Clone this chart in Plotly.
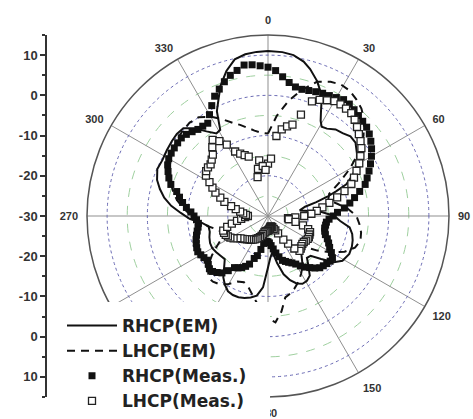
import plotly.graph_objects as go

# ---------------- data (angle in degrees, level in dB) ----------------
em_r_theta = [0, 5, 9, 13, 16, 20, 23, 25, 27, 29, 31, 34, 38, 42, 46, 50, 55, 60, 64, 68,
              70, 72, 74, 76, 80, 85, 90, 94, 98, 102, 106, 110, 115, 121, 125, 129, 133, 137,
              141, 145, 149, 153, 157, 161, 165, 169, 173, 177, 180, 184, 188, 192, 196, 200,
              204, 208, 212, 216, 220, 225, 230, 235, 240, 245, 250, 255, 260, 264, 268, 272,
              276, 280, 284, 288, 293, 298, 303, 308, 312, 316, 320, 324, 328, 331, 334, 337,
              340, 344, 348, 352, 356, 360]
em_r_db = [11.0, 10.9, 10.5, 9.4, 8.0, 5.7, 3.5, 1.5, -1.0, -3.0, -4.1, -3.8, -2.7, -2.3, -1.5,
           -1.6, -3.0, -4.5, -6.5, -9.0, -11.9, -14.5, -17.5, -20.5, -22.0, -17.0, -13.5, -12.0,
           -9.5, -8.6, -8.1, -7.8, -7.7, -8.4, -10.0, -13.0, -15.5, -15.8, -14.0, -11.9, -11.2,
           -11.1, -11.8, -13.1, -15.0, -18.0, -21.0, -19.5, -17.2, -12.2, -10.0, -9.3, -8.8,
           -8.5, -8.5, -8.8, -9.8, -11.1, -13.0, -14.8, -14.6, -14.3, -14.0, -14.1, -14.5,
           -15.0, -15.0, -13.5, -10.5, -8.3, -5.8, -3.8, -2.3, -1.0, -0.1, -0.3, 0.0, 0.3,
           0.5, 0.3, -1.5, -4.0, -5.8, -5.5, -1.0, 1.5, 4.5, 7.5, 9.8, 10.6, 10.9, 11.0]

em_l_theta = [0, 5, 10, 15, 20, 25, 29, 33, 37, 41, 45, 50, 55, 60, 65, 70, 75, 80, 85, 90,
              95, 100, 105, 110, 115, 120, 125, 130, 135, 140, 145, 150, 155, 160, 165, 168,
              172, 176, 180, 185, 190, 195, 200, 205, 210, 215, 220, 224, 230, 235, 240, 245,
              250, 255, 260, 265, 270, 275, 280, 285, 290, 295, 300, 305, 310, 315, 320, 325,
              330, 335, 340, 343, 347, 351, 355, 360]
em_l_db = [-9.5, -5.0, -1.0, 2.5, 5.5, 6.8, 7.4, 7.2, 6.4, 5.4, 3.8, 1.0, -2.5, -6.5, -10.5,
           -13.8, -14.5, -12.5, -10.0, -8.0, -7.2, -6.5, -6.2, -7.0, -9.0, -12.0, -15.0, -18.0,
           -19.0, -17.0, -15.0, -13.5, -12.0, -10.8, -9.8, -9.3, -6.0, -3.5, -4.5, -7.0, -9.5,
           -11.5, -12.5, -12.0, -10.5, -9.2, -8.7, -8.7, -10.5, -13.0, -15.5, -17.5, -18.0,
           -17.0, -15.0, -13.0, -11.0, -9.0, -7.0, -5.5, -4.0, -3.0, -2.0, -1.2, -0.5, 0.0,
           0.3, 0.0, -1.5, -3.5, -5.5, -6.3, -7.5, -8.5, -9.2, -9.5]

meas_theta = list(range(0, 360, 3))
meas_r_db = [7.0, 6.2, 4.8, 3.6, 2.8, 2.6, 2.8, 3.1, 3.4, 3.6, 4.0, 4.5, 4.4, 4.0, 3.6, 3.3,
             3.0, 2.4, 1.6, 0.7, -0.3, -1.4, -2.5, -3.6, -4.6, -6.4, -8.0, -9.4, -10.9, -12.7,
             -13.8, -14.8, -15.4, -15.5, -15.6, -15.4, -15.0, -14.2, -13.5, -12.8, -11.8,
             -10.9, -10.9, -11.2, -11.5, -11.8, -12.6, -13.5, -14.3, -15.2, -16.2, -16.9,
             -17.4, -17.9, -18.4, -19.5, -20.6, -21.7, -22.6, -23.3, -23.6, -23.7, -23.5,
             -23.1, -21.5, -19.8, -18.9, -17.2, -16.3, -15.6, -15.1, -14.7, -13.2, -11.8,
             -11.1, -10.5, -10.4, -10.9, -11.3, -11.0, -10.7, -10.4, -10.6, -10.9, -11.2,
             -11.6, -12.0, -12.4, -12.6, -12.2, -11.6, -10.8, -9.6, -8.5, -7.5, -6.5, -4.6,
             -3.6, -2.8, -2.0, -1.5, -1.3, -1.2, -1.1, -1.0, -1.3, -1.8, -2.3, -2.4, -2.5,
             -0.9, 0.8, 2.6, 3.8, 5.1, 6.2, 7.0, 8.0, 7.8, 7.4]
meas_l_db = [-17.0, -15.7, -10.0, -8.2, -7.2, -6.5, -3.5, 0.5, 1.6, 2.3, 3.0, 3.1, 3.0, 2.9,
             2.2, 1.3, 0.4, -0.4, -1.3, -2.6, -3.8, -5.3, -6.6, -7.8, -10.0, -12.2, -14.4,
             -16.3, -17.8, -19.2, -21.0, -23.2, -25.0, -24.8, -23.0, -21.0, -19.5, -18.8,
             -18.7, -18.6, -18.6, -18.8, -19.0, -19.0, -18.8, -18.5, -18.3, -19.6, -21.5,
             -23.0, -25.0, -26.0, -26.5, -27.0, -27.2, -27.3, -27.2, -27.0, -26.8, -26.6,
             -26.4, -26.3, -26.2, -26.1, -25.8, -25.3, -24.8, -24.4, -24.0, -23.7, -23.3,
             -23.0, -22.7, -22.5, -22.2, -21.9, -21.5, -21.2, -20.6, -19.8, -19.2, -18.8,
             -18.5, -18.3, -18.3, -19.5, -20.8, -22.2, -23.3, -24.3, -25.0, -24.5, -23.8,
             -23.0, -21.8, -20.5, -18.6, -17.3, -15.7, -14.5, -13.2, -11.6, -11.0, -10.8,
             -10.8, -10.2, -9.5, -8.0, -6.6, -7.8, -9.5, -12.0, -13.0, -13.8, -14.5, -20.0,
             -18.0, -16.0, -17.5, -18.5]

angle_ticks = list(range(0, 360, 30))
# 210 and 240 sit under the legend in the reference and are not visible there
angle_text = ["0", "30", "60", "90", "120", "150", "180", "", "", "270", "300", "330"]
left_tick_vals = [-40, -30, -20, -10, 0, 10, 20, 30, 40]
left_tick_text = ["10", "0", "-10", "-20", "-30", "-20", "-10", "0", "10"]
radial_range = [-30, 15]

# ---------------- layout geometry ----------------
W, H = 473, 419
cx, cy, rad = 268, 216, 181
px = lambda v: v / W
py = lambda v: 1 - v / H
dom_x = [px(cx - rad), px(cx + rad)]
dom_y = [py(cy + rad), py(cy - rad)]

FONT = "Liberation Sans, Arial, sans-serif"
LEG_FONT = "DejaVu Sans, Liberation Sans, sans-serif"

fig = go.Figure()

# invisible anchors so both polar subplots and the side axis are drawn
fig.add_trace(go.Scatterpolar(r=[radial_range[0]], theta=[0], mode="markers",
                              marker=dict(opacity=0), showlegend=False,
                              hoverinfo="skip", subplot="polar"))
fig.add_trace(go.Scatter(x=[0], y=[0], mode="markers", marker=dict(opacity=0),
                         showlegend=False, hoverinfo="skip"))

fig.add_trace(go.Scatterpolar(r=em_r_db, theta=em_r_theta, mode="lines", name="RHCP(EM)",
                              line=dict(color="#111111", width=2), subplot="polar2",
                              legendgroup="a"))
fig.add_trace(go.Scatterpolar(r=em_l_db, theta=em_l_theta, mode="lines", name="LHCP(EM)",
                              line=dict(color="#111111", width=2, dash="8px,6px"),
                              subplot="polar2", legendgroup="b"))
fig.add_trace(go.Scatterpolar(r=meas_r_db, theta=meas_theta, mode="markers", name="RHCP(Meas.)",
                              marker=dict(symbol="square", size=7, color="#111111",
                                          line=dict(width=0)),
                              subplot="polar2", legendgroup="c"))
fig.add_trace(go.Scatterpolar(r=meas_l_db, theta=meas_theta, mode="markers", name="LHCP(Meas.)",
                              marker=dict(symbol="square", size=7, color="white",
                                          line=dict(width=1.3, color="#222222")),
                              subplot="polar2", legendgroup="d"))

fig.update_layout(
    width=W, height=H,
    margin=dict(l=0, r=0, t=0, b=0),
    paper_bgcolor="white", plot_bgcolor="white",
    font=dict(family=FONT, color="#333333"),
    xaxis=dict(domain=[px(47), px(60)], range=[0, 1], visible=False, fixedrange=True),
    yaxis=dict(domain=dom_y, range=[-45, 45], anchor="x", side="left",
               showline=True, linecolor="#333333", linewidth=1.5,
               ticks="outside", ticklen=5, tickwidth=1.5, tickcolor="#333333",
               tickvals=left_tick_vals, ticktext=left_tick_text,
               minor=dict(dtick=5, ticks="outside", ticklen=3, tickcolor="#333333"),
               showgrid=False, zeroline=False,
               tickfont=dict(size=13, family=FONT, color="#333333", weight="bold")),
    polar=dict(
        domain=dict(x=dom_x, y=dom_y), bgcolor="white",
        radialaxis=dict(range=radial_range, tickvals=[-25, -15, -5, 5],
                        showticklabels=False, ticks="", showline=False,
                        gridcolor="#9fd09f", griddash="dash", gridwidth=1),
        angularaxis=dict(rotation=90, direction="clockwise", showgrid=False,
                         showticklabels=False, ticks="", showline=False)),
    polar2=dict(
        domain=dict(x=dom_x, y=dom_y), bgcolor="rgba(0,0,0,0)",
        radialaxis=dict(range=radial_range, tickvals=[-20, -10, 0, 10],
                        showticklabels=False, ticks="", showline=False,
                        gridcolor="#6a6ab4", griddash="dot", gridwidth=1),
        angularaxis=dict(rotation=90, direction="clockwise", tickmode="array",
                         tickvals=angle_ticks, ticktext=angle_text,
                         showgrid=True, gridcolor="#8f8f8f", gridwidth=1,
                         showline=True, linecolor="#555555", linewidth=1.5,
                         ticks="outside", ticklen=6, tickcolor="rgba(0,0,0,0)",
                         tickfont=dict(size=11, family=FONT, color="#333333",
                                       weight="bold"))),
    legend=dict(x=px(62), y=0, xanchor="left", yanchor="bottom",
                bgcolor="rgba(255,255,255,0)", tracegroupgap=0, itemwidth=50,
                font=dict(size=17, family=LEG_FONT, color="#222222", weight="bold")),
    shapes=[dict(type="rect", xref="paper", yref="paper", layer="above",
                 x0=px(50), x1=px(270), y0=0, y1=py(302),
                 fillcolor="white", line=dict(width=0))],
)

fig.write_html("out.html")
